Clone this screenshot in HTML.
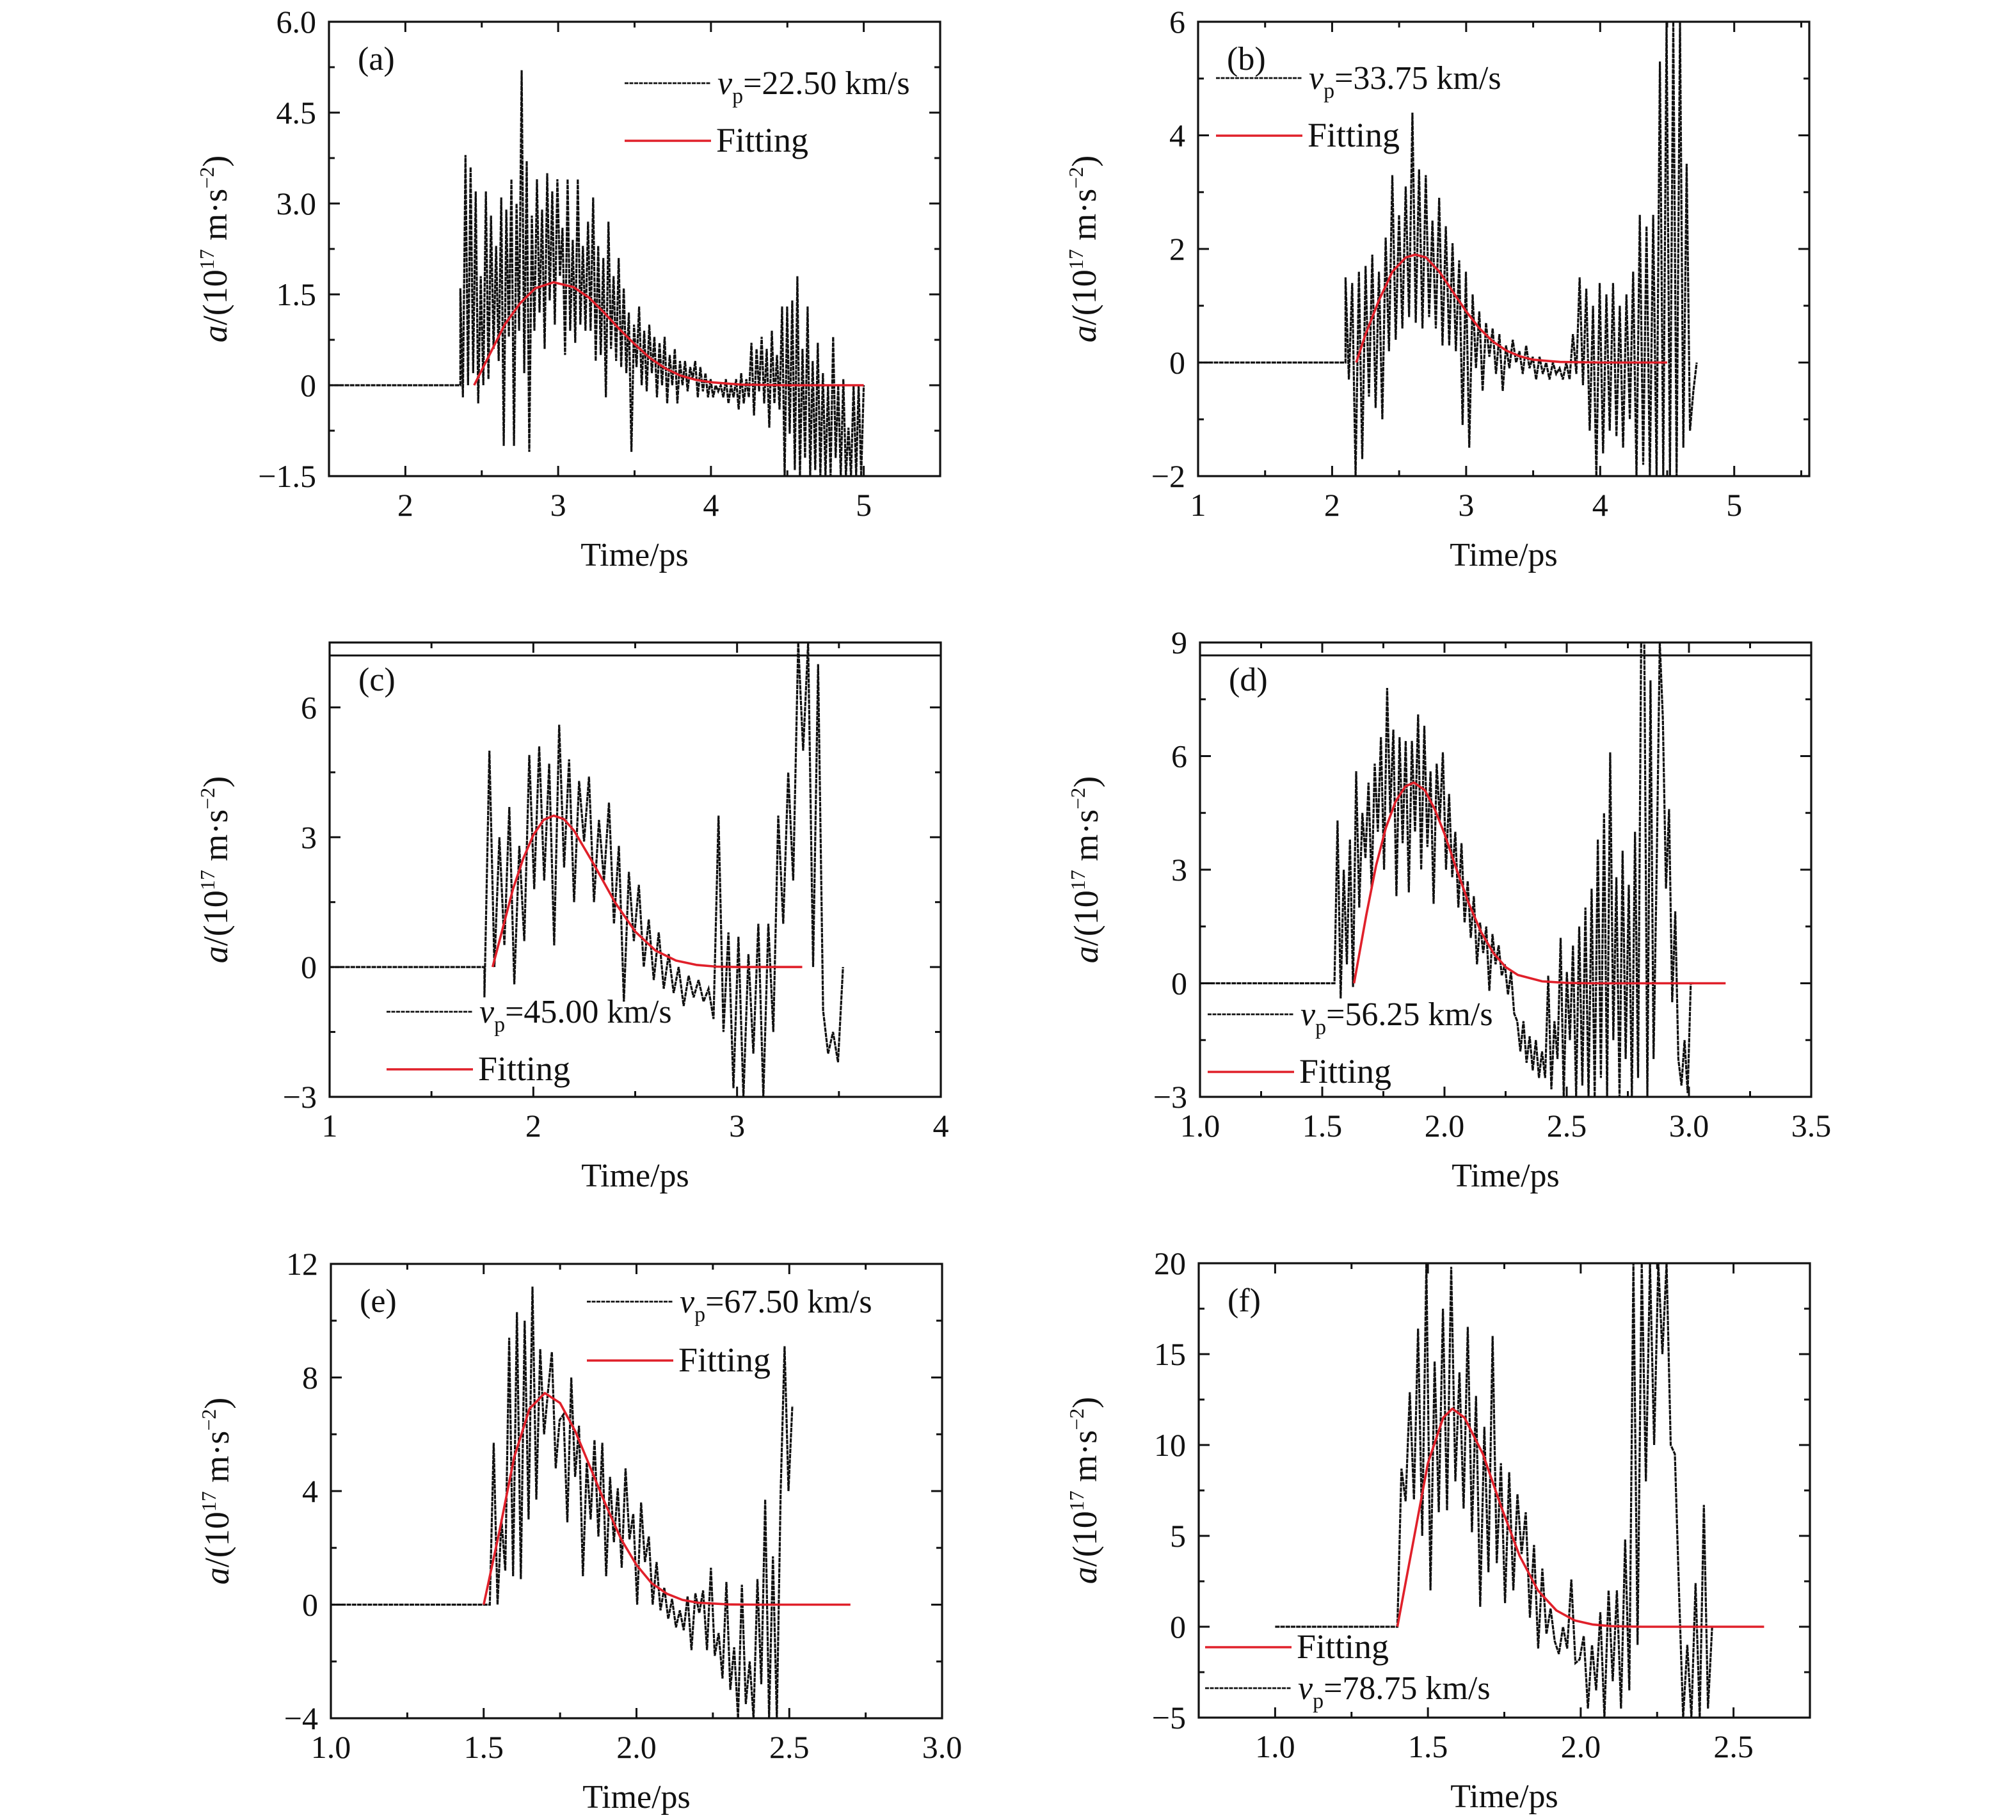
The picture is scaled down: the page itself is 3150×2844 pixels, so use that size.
<!DOCTYPE html>
<html><head><meta charset="utf-8">
<style>
html,body{margin:0;padding:0;background:#fff;}
svg{display:block;font-family:"Liberation Serif",serif;}
</style></head>
<body>
<svg id="fig" width="3150" height="2844" viewBox="0 0 3150 2844" xmlns="http://www.w3.org/2000/svg"></svg>
<script>
// ---------- data: panel (a) vp=22.50 km/s ----------
const aXTicks=[2,3,4,5];
const aYTicks=[-1.5,0,1.5,3.0,4.5,6.0];
const aYLabels=["\u22121.5","0","1.5","3.0","4.5","6.0"];
const aRaw=[1.6,-0.2,3.8,0.0,3.6,0.2, 3.2,-0.3,1.8,0.0,3.2,0.1, 2.8,0.6,2.3,0.4,3.1,-1.0, 2.9,0.8,3.4,-1.0,3.0,0.9,
 5.2,0.2,3.7,-1.1,2.8,0.9, 3.4,1.2,2.9,0.6,3.5,1.4, 3.2,1.0,3.4,1.8,2.6,0.5, 3.4,0.9,2.4,0.7,3.4,1.0,
 2.3,0.9,2.7,0.9,3.1,0.4, 2.3,0.5,2.1,-0.2,2.7,0.6, 1.8,0.4,2.1,0.3,1.6,0.2, 1.2,-1.1,1.0,0.3,1.3,0.0,
 0.9,-0.1,1.0,0.2,0.8,-0.2, 0.7,0.0,0.8,-0.3,0.5,0.0, 0.6,-0.3,0.4,0.0,0.4,-0.1, 0.3,0.1,0.4,-0.2,0.3,-0.1,
 0.2,-0.2,0.1,-0.2,0.0,-0.1, 0.0,-0.2,0.1,-0.3,0.0,-0.2, 0.1,-0.4,0.2,-0.3,0.1,-0.2, 0.7,-0.5,0.6,-0.1,0.8,-0.3,
 0.6,-0.7,0.9,-0.3,0.5,-0.4, 1.3,-1.5,1.3,-0.8,1.4,-1.4, 1.8,-1.5,0.6,-1.2,1.3,-1.5, 0.4,-1.4,0.7,-1.5,0.2,-1.5,
 0.0,-1.5,0.8,-1.2,0.0,-1.5, 0.1,-1.5,-0.7,-1.5,0.0,-1.5, 0.0,-1.5,0.0];
const aRawSpan=[2.36,5.0];
const aFitT=[2.45,2.55,2.65,2.75,2.85,2.97,3.1,3.2,3.3,3.4,3.5,3.6,3.7,3.8,3.9,4.0,4.2,4.5,5.0];
const aFitA=[0,0.5,1.0,1.35,1.6,1.7,1.62,1.45,1.2,0.93,0.68,0.45,0.28,0.16,0.09,0.05,0.01,0,0];

// ---------- data: panel (b) vp=33.75 km/s ----------
const bXTicks=[1,2,3,4,5];
const bYTicks=[-2,0,2,4,6];
const bYLabels=["\u22122","0","2","4","6"];
const bRaw=[1.5,-0.3,1.4,-2.0, 1.6,-1.7,1.7,-0.6, 1.9,-0.8,1.6,-1.0, 2.2,0.2,3.3,0.4, 2.6,0.6,3.1,0.8,
 4.4,0.7,3.4,0.6, 3.3,0.8,2.5,0.6, 2.9,0.3,2.4,0.3, 2.1,0.2,1.8,-1.1, 1.6,-1.5,1.2,-0.1,
 0.9,-0.5,0.7,0.1, 0.6,-0.2,0.5,-0.5, 0.3,-0.1,0.4,0.0, 0.2,-0.2,0.3,-0.1, 0.1,-0.3,0.1,-0.2,
 0.0,-0.3,0.0,-0.2, -0.1,-0.3,0.0,-0.3, 0.5,-0.2,1.5,-0.4, 1.3,-1.2,1.0,-2.0, 1.4,-1.6,1.2,-1.2,
 1.4,-1.3,1.0,-1.5, 1.2,-1.0,1.6,-2.0, 2.6,-1.8,2.4,-2.0, 2.6,-2.0,5.3,-2.0, 6.0,-2.0,6.0,-2.0,
 6.0,-1.5,3.5,-1.2, -0.5,0.0];
const bRawSpan=[2.1,4.72];
const bFitT=[2.18,2.25,2.35,2.45,2.55,2.62,2.7,2.8,2.9,3.0,3.1,3.2,3.3,3.4,3.5,3.7,4.0,4.5];
const bFitA=[0,0.5,1.1,1.6,1.85,1.9,1.85,1.6,1.25,0.9,0.6,0.37,0.21,0.11,0.05,0.01,0,0];

// ---------- data: panel (c) vp=45.00 km/s ----------
const cXTicks=[1,2,3,4];
const cYTicks=[-3,0,3,6];
const cYLabels=["\u22123","0","3","6"];
const cRaw=[-0.7,5.0,0.0,3.0, 0.5,3.7,-0.4,2.8, 0.6,4.9,1.8,5.1, 2.0,4.7,0.5,5.6, 2.3,4.8,1.5,4.3,
 2.9,4.4,1.5,3.4, 2.0,3.8,1.0,2.8, -0.8,2.2,0.6,1.9, 0.0,1.1,-0.3,0.8, -0.5,0.3,-0.6,0.0,
 -0.9,-0.2,-0.7,-0.3, -0.8,-0.5,-1.2,3.5, -1.5,0.8,-2.8,0.7, -3.0,0.3,-2.0,1.0, -3.0,1.0,-1.5,3.5,
 1.0,4.5,2.0,7.5, 5.0,7.5,0.0,7.0, -1.0,-2.0,-1.5,-2.2,0.0];
const cRawSpan=[1.76,3.52];
const cFitT=[1.8,1.85,1.9,1.95,2.0,2.05,2.1,2.15,2.2,2.3,2.4,2.5,2.6,2.7,2.8,2.9,3.0,3.32];
const cFitA=[0,0.9,1.8,2.5,3.05,3.4,3.5,3.42,3.15,2.35,1.5,0.82,0.38,0.15,0.05,0.01,0,0];
const cClipLine=7.2;

// ---------- data: panel (d) vp=56.25 km/s ----------
const dXTicks=[1.0,1.5,2.0,2.5,3.0,3.5];
const dYTicks=[-3,0,3,6,9];
const dYLabels=["\u22123","0","3","6","9"];
const dRaw=[0.0,4.3,-0.4,3.0, 0.5,3.8,-0.1,5.6, 2.0,4.5,3.3,5.3, 2.5,5.8,4.0,6.5, 3.0,7.8,4.5,6.7,
 2.3,6.5,3.7,6.4, 2.4,6.4,4.0,7.1, 3.0,6.8,3.6,5.6, 2.1,5.8,4.3,6.1, 3.0,5.0,2.8,4.0,
 2.0,3.7,1.6,2.7, 1.2,2.3,0.5,1.6, 0.8,1.5,-0.2,1.3, 0.5,1.0,0.2,0.5,
 -0.3,0.3,-0.8,-1.0, -1.8,-1.0,-2.1,-1.4, -2.3,-1.5,-2.5,-1.8, -2.5,0.2,-2.8,-1.0, -2.0,1.2,-3.0,0.3,
 -1.5,1.0,-3.0,1.5, -2.7,2.0,-3.0,2.5, -3.0,3.8,-2.5,4.5, -3.0,6.1,-1.5,2.8, -3.0,3.5,-2.0,2.6,
 -3.0,4.0,-2.5,9.0, 9.0,-3.0,8.0,-2.0, 3.0,9.0,7.0,2.5, 4.6,-0.5,1.9,-2.0, -2.7,-1.5,-2.9,0.0, 0.0];
const dRawSpan=[1.55,3.02];
const dFitT=[1.63,1.68,1.72,1.76,1.8,1.84,1.875,1.92,1.96,2.0,2.05,2.1,2.15,2.2,2.25,2.3,2.4,2.5,2.6,3.15];
const dFitA=[0,1.8,3.1,4.1,4.8,5.2,5.3,5.1,4.6,3.95,3.0,2.1,1.35,0.8,0.43,0.22,0.05,0.01,0,0];
const dClipLine=8.66;

// ---------- data: panel (e) vp=67.50 km/s ----------
const eXTicks=[1.0,1.5,2.0,2.5,3.0];
const eYTicks=[-4,0,4,8,12];
const eYLabels=["\u22124","0","4","8","12"];
const eRaw=[0.0,5.7,0.0,3.0, 1.2,9.4,1.0,10.3, 0.9,10.0,3.0,11.2, 3.7,9.0,6.0,7.5, 8.9,4.8,6.5,6.7,
 2.9,8.0,4.5,6.3, 1.0,5.0,3.0,5.8, 2.4,5.7,1.0,4.5, 2.2,4.1,1.3,4.8, 2.3,3.2,0.0,3.6,
 1.5,2.4,0.0,1.5, -0.2,0.6,-0.5,0.2, -0.8,-0.2,-0.9,0.3, -1.6,0.4,-0.3,0.5, -1.6,1.3,-1.8,-1.0,
 -2.6,0.8,-3.0,-1.5, -4.0,0.7,-3.5,-2.0, -4.0,0.9,-2.8,3.7, -4.0,1.7,-4.0,4.0, 9.1,4.0,7.0];
const eRawSpan=[1.52,2.51];
const eFitT=[1.5,1.55,1.6,1.65,1.7,1.75,1.8,1.85,1.9,1.95,2.0,2.05,2.1,2.15,2.2,2.3,2.4,2.7];
const eFitA=[0,2.5,5.2,6.9,7.45,7.1,6.1,4.8,3.5,2.3,1.4,0.75,0.38,0.17,0.07,0.01,0,0];

// ---------- data: panel (f) vp=78.75 km/s ----------
const fXTicks=[1.0,1.5,2.0,2.5];
const fYTicks=[-5,0,5,10,15,20];
const fYLabels=["\u22125","0","5","10","15","20"];
const fRaw=[0.0,8.7,6.9,12.9, 7.0,16.4,5.0,20.0, 2.0,14.6,6.3,17.5, 6.4,19.8,8.0,14.0, 6.5,16.5,5.2,12.7,
 1.1,11.0,3.0,16.0, 3.5,9.0,1.3,8.5, 2.0,7.3,4.0,6.3, 0.5,4.5,-1.2,3.2, -0.4,1.0,-0.8,-1.5,
 0.0,-1.2,2.6,-2.0, -1.8,-0.5,-4.5,-1.0, -3.5,0.8,-5.0,2.0, -3.0,2.0,-4.5,4.8, -3.5,20.0,-1.0,20.0,
 8.0,20.0,10.0,20.0, 15.0,20.0,10.0,9.5, 2.0,-5.0,-1.0,-5.0, 2.4,-5.0,6.7,-4.5,0.0];
const fRawSpan=[1.40,2.43];
const fFitT=[1.40,1.45,1.5,1.55,1.58,1.62,1.68,1.74,1.8,1.86,1.92,1.98,2.04,2.1,2.2,2.6];
const fFitA=[0,4.5,9.0,11.5,12.0,11.5,9.5,6.6,3.9,2.0,0.9,0.35,0.12,0.03,0,0];

// ---------- layout ----------
const NS="http://www.w3.org/2000/svg";
const svg=document.getElementById('fig');
function mk(tag,attrs,parent){const e=document.createElementNS(NS,tag);for(const k in attrs)e.setAttribute(k,attrs[k]);(parent||svg).appendChild(e);return e;}

const panels=[
 {id:'a',L:514,T:34,x0:1.5,x1:5.5,y0:-1.5,y1:6,xt:aXTicks,xmin:0.5,yt:aYTicks,yl:aYLabels,ymin:0.75,raw:aRaw,span:aRawSpan,fx:aFitT,fy:aFitA,flatFrom:1.5,
  vp:'22.50',leg:{x:976,y1:130,y2:220}},
 {id:'b',L:1872,T:34,x0:1,x1:5.56,y0:-2,y1:6,xt:bXTicks,xmin:0.5,yt:bYTicks,yl:bYLabels,ymin:1,raw:bRaw,span:bRawSpan,fx:bFitT,fy:bFitA,flatFrom:1,
  vp:'33.75',leg:{x:1900,y1:122,y2:212}},
 {id:'c',L:515,T:1004,x0:1,x1:4,y0:-3,y1:7.5,xt:cXTicks,xmin:0.5,yt:cYTicks,yl:cYLabels,ymin:1.5,raw:cRaw,span:cRawSpan,fx:cFitT,fy:cFitA,flatFrom:1,clip:cClipLine,
  vp:'45.00',leg:{x:604,y1:1581,y2:1671}},
 {id:'d',L:1875,T:1004,x0:1,x1:3.5,y0:-3,y1:9,xt:dXTicks,xmin:0.25,yt:dYTicks,yl:dYLabels,ymin:1.5,raw:dRaw,span:dRawSpan,fx:dFitT,fy:dFitA,flatFrom:1,clip:dClipLine,
  vp:'56.25',leg:{x:1887,y1:1585,y2:1675}},
 {id:'e',L:517,T:1975,x0:1,x1:3,y0:-4,y1:12,xt:eXTicks,xmin:0.25,yt:eYTicks,yl:eYLabels,ymin:2,raw:eRaw,span:eRawSpan,fx:eFitT,fy:eFitA,flatFrom:1,
  vp:'67.50',leg:{x:917,y1:2034,y2:2126}},
 {id:'f',L:1873,T:1974,x0:0.75,x1:2.75,y0:-5,y1:20,xt:fXTicks,xmin:0.25,yt:fYTicks,yl:fYLabels,ymin:2.5,raw:fRaw,span:fRawSpan,fx:fFitT,fy:fFitA,flatFrom:1,
  vp:'78.75',leg:{x:1883,y1:2638,y2:2574}}
];
const W=955,H=710;

panels.forEach(p=>{
 const g=mk('g',{});
 
 
 const X=v=>p.L+(v-p.x0)/(p.x1-p.x0)*W;
 const Y=v=>p.T+H-(v-p.y0)/(p.y1-p.y0)*H;
 const cp=mk('clipPath',{id:'clip-'+p.id},g);
 mk('rect',{x:p.L,y:p.T,width:W,height:H},cp);
 let d='M'+X(p.flatFrom)+','+Y(0)+' L'+X(p.span[0])+','+Y(0);
 const n=p.raw.length, dt=(p.span[1]-p.span[0])/(n-1);
 p.raw.forEach((v,i)=>{d+=' L'+X(p.span[0]+i*dt).toFixed(1)+','+Y(v).toFixed(1);});
 const dl=mk('path',{d:d,fill:'none',stroke:'#111','stroke-width':3.2,'stroke-dasharray':'7,1.2','clip-path':'url(#clip-'+p.id+')'},g);
 
 
 let fd='';
 p.fx.forEach((t,i)=>{fd+=(i?' L':'M')+X(t).toFixed(1)+','+Y(p.fy[i]).toFixed(1);});
 const fl=mk('path',{d:fd,fill:'none',stroke:'#e0202a','stroke-width':3.6,'stroke-linejoin':'round','clip-path':'url(#clip-'+p.id+')'},g);
 
 
 if(p.clip!==undefined){
  const cl=mk('line',{x1:p.L,x2:p.L+W,y1:Y(p.clip),y2:Y(p.clip),stroke:'#111','stroke-width':3},g);
  
  
 }
 const fr=mk('rect',{x:p.L,y:p.T,width:W,height:H,fill:'none',stroke:'#111','stroke-width':3.2},g);
 
 
 const xa=mk('g',{},g);
 
 
 for(let v=Math.ceil(p.x0/p.xmin-1e-6)*p.xmin; v<=p.x1+1e-6; v+=p.xmin){
  const major=p.xt.some(t=>Math.abs(t-v)<1e-6);
  const len=major?16:9, x=X(v);
  mk('line',{x1:x,x2:x,y1:p.T+H,y2:p.T+H-len,stroke:'#111','stroke-width':3},xa);
  mk('line',{x1:x,x2:x,y1:p.T,y2:p.T+len,stroke:'#111','stroke-width':3},xa);
 }
 p.xt.forEach(t=>{
  const lab=(p.id==='d'||p.id==='e'||p.id==='f')?t.toFixed(1):String(t);
  const tx=mk('text',{x:X(t),y:p.T+H+62,'font-size':50,'text-anchor':'middle',fill:'#111'},xa);
  tx.textContent=lab;
  
  
 });
 const xt=mk('text',{x:p.L+W/2,y:p.T+H+140,'font-size':52,'text-anchor':'middle',fill:'#111'},g);
 xt.textContent='Time/ps';
 
 
 const ya=mk('g',{},g);
 
 
 for(let v=p.y0; v<=p.y1+1e-6; v+=p.ymin){
  const major=p.yt.some(t=>Math.abs(t-v)<1e-6);
  const len=major?17:9, y=Y(v);
  mk('line',{x1:p.L,x2:p.L+len,y1:y,y2:y,stroke:'#111','stroke-width':3},ya);
  mk('line',{x1:p.L+W,x2:p.L+W-len,y1:y,y2:y,stroke:'#111','stroke-width':3},ya);
 }
 p.yt.forEach((t,i)=>{
  const ty=mk('text',{x:p.L-20,y:Y(t)+17,'font-size':50,'text-anchor':'end',fill:'#111'},ya);
  ty.textContent=p.yl[i];
  
  
 });
 const yt=mk('text',{transform:'translate('+(p.L-160)+','+(p.T+H/2)+') rotate(-90)','font-size':54,'text-anchor':'middle',fill:'#111'},g);
 yt.innerHTML='<tspan font-style="italic">a</tspan>/(10<tspan font-size="32" dy="-20">17</tspan><tspan dy="20"> m\u00b7s</tspan><tspan font-size="32" dy="-20">\u22122</tspan><tspan dy="20">)</tspan>';
 
 
 const pl=mk('text',{x:p.L+45,y:p.T+75,'font-size':52,fill:'#111'},g);
 pl.textContent='('+p.id+')';
 
 
 const lg=mk('g',{},g);
 
 
 const lx=p.leg.x, lw=135;
 const e1=mk('g',{},lg);
 
 
 mk('line',{x1:lx,x2:lx+lw,y1:p.leg.y1,y2:p.leg.y1,stroke:'#111','stroke-width':2.8,'stroke-dasharray':'6,1.5'},e1);
 const t1=mk('text',{x:lx+lw+10,y:p.leg.y1+17,'font-size':52,fill:'#111'},e1);
 t1.innerHTML='<tspan font-style="italic">v</tspan><tspan font-size="34" dy="14">p</tspan><tspan dy="-14">='+p.vp+' km/s</tspan>';
 const e2=mk('g',{},lg);
 
 
 mk('line',{x1:lx,x2:lx+lw,y1:p.leg.y2,y2:p.leg.y2,stroke:'#e0202a','stroke-width':3.6},e2);
 const t2=mk('text',{x:lx+lw+8,y:p.leg.y2+17,'font-size':54,fill:'#111'},e2);
 t2.textContent='Fitting';
});
</script>
</body></html>
